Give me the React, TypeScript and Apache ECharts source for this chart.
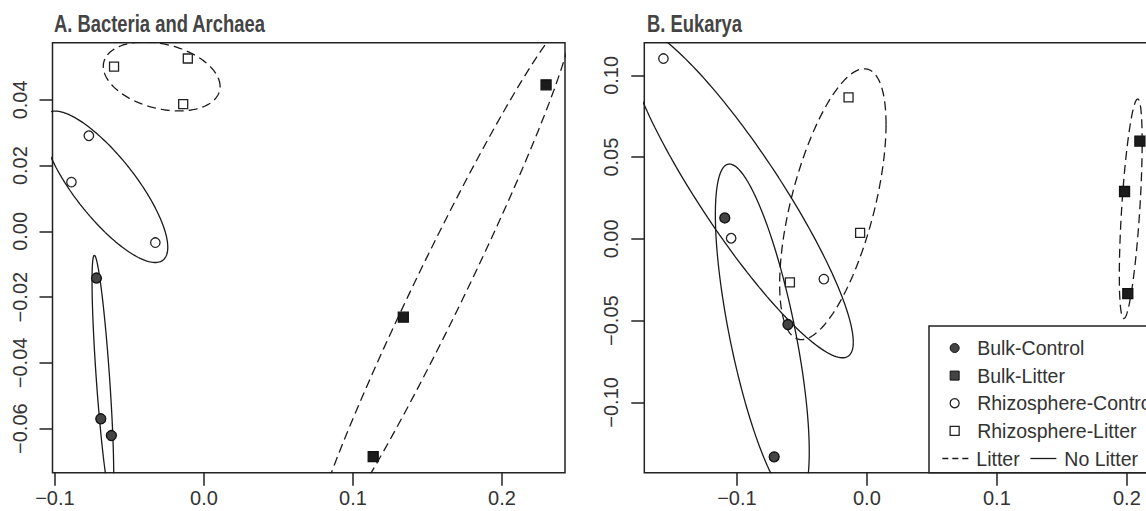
import React, { useEffect, useRef } from "react";
import * as echarts from "echarts";

// ---- groups ----
const groupNames = ["Bulk-Control", "Bulk-Litter", "Rhizosphere-Control", "Rhizosphere-Litter"];
const groupIsLitter = [false, true, false, true];
const lineNames = ["Litter", "No Litter"];

// ---- Panel A: Bacteria and Archaea ----
const bulkControlAX = [-0.0721, -0.0692, -0.0621];
const bulkControlAY = [-0.0142, -0.057, -0.0621];
const bulkLitterAX = [0.2296, 0.1338, 0.1136];
const bulkLitterAY = [0.0446, -0.0261, -0.0685];
const rhizoControlAX = [-0.0772, -0.0889, -0.0326];
const rhizoControlAY = [0.0291, 0.015, -0.0034];
const rhizoLitterAX = [-0.0603, -0.0108, -0.0139];
const rhizoLitterAY = [0.0501, 0.0526, 0.0387];

// ---- Panel B: Eukarya ----
const bulkControlBX = [-0.1093, -0.0607, -0.0713];
const bulkControlBY = [0.0128, -0.0524, -0.1333];
const bulkLitterBX = [0.1982, 0.21, 0.2007];
const bulkLitterBY = [0.029, 0.0598, -0.0335];
const rhizoControlBX = [-0.1565, -0.1044, -0.0331];
const rhizoControlBY = [0.1103, 0.0004, -0.0246];
const rhizoLitterBX = [-0.0141, -0.0052, -0.0592];
const rhizoLitterBY = [0.0866, 0.0037, -0.0266];

// ---- axes ----
const xTicksA = [-0.1, 0.0, 0.1, 0.2];
const yTicksA = [-0.06, -0.04, -0.02, 0.0, 0.02, 0.04];
const xTicksB = [-0.1, 0.0, 0.1, 0.2];
const yTicksB = [-0.1, -0.05, 0.0, 0.05, 0.1];
const xRangeA = [-0.1016, 0.2423];
const yRangeA = [-0.0734, 0.0574];
const xRangeB = [-0.1712, 0.2247];
const yRangeB = [-0.143, 0.12];

const titles = ["A. Bacteria and Archaea", "B. Eukarya"];
const CONF = 0.95;

const FONT = "'Liberation Sans', Arial, Helvetica, sans-serif";

function zip(xs: number[], ys: number[]) {
  return xs.map((x, i) => [x, ys[i]]);
}

// standard-error ellipse (vegan ordiellipse, kind = "se", conf = 0.95)
function seEllipse(xs: number[], ys: number[], segs = 180) {
  const n = xs.length;
  const mx = xs.reduce((a, b) => a + b, 0) / n;
  const my = ys.reduce((a, b) => a + b, 0) / n;
  let sxx = 0, syy = 0, sxy = 0;
  for (let i = 0; i < n; i++) {
    sxx += (xs[i] - mx) ** 2;
    syy += (ys[i] - my) ** 2;
    sxy += (xs[i] - mx) * (ys[i] - my);
  }
  const cxx = sxx / (n - 1) / n;
  const cyy = syy / (n - 1) / n;
  const cxy = sxy / (n - 1) / n;
  const scale = Math.sqrt(-2 * Math.log(1 - CONF));
  const a = Math.sqrt(cxx);
  const b = cxy / a;
  const c = Math.sqrt(Math.max(cyy - b * b, 0));
  const pts: number[][] = [];
  for (let i = 0; i <= segs; i++) {
    const t = (2 * Math.PI * i) / segs;
    const u = Math.cos(t), v = Math.sin(t);
    pts.push([mx + scale * a * u, my + scale * (b * u + c * v)]);
  }
  return pts;
}

const symbolStyles = [
  { symbol: "circle", size: 10, color: "#444444", border: "#111111" },
  { symbol: "rect", size: 10, color: "#1c1c1c", border: "#111111" },
  { symbol: "circle", size: 9.5, color: "#ffffff", border: "#222222" },
  { symbol: "rect", size: 9, color: "#ffffff", border: "#222222" },
];

const panelData = [
  [
    [bulkControlAX, bulkControlAY],
    [bulkLitterAX, bulkLitterAY],
    [rhizoControlAX, rhizoControlAY],
    [rhizoLitterAX, rhizoLitterAY],
  ],
  [
    [bulkControlBX, bulkControlBY],
    [bulkLitterBX, bulkLitterBY],
    [rhizoControlBX, rhizoControlBY],
    [rhizoLitterBX, rhizoLitterBY],
  ],
];

const DASH = [9, 5];

export default function App() {
  const ref = useRef<HTMLDivElement>(null);
  useEffect(() => {
    if (!ref.current) return;
    const chart = echarts.init(ref.current, null, { renderer: "svg" });

    const grids = [
      { left: 52.5, top: 42.7, width: 512.5, height: 430 },
      { left: 644.3, top: 42.7, width: 514.7, height: 430 },
    ].map((g) => ({ ...g, show: true, borderColor: "#222", borderWidth: 1.5, backgroundColor: "transparent", containLabel: false }));

    const xFmt = (v: number) => (v < -1e-9 ? "\u2212" : "") + Math.abs(v).toFixed(1);
    const yFmt = (v: number) => (v < -1e-9 ? "\u2212" : "") + Math.abs(v).toFixed(2);

    const mkX = (idx: number, range: number[], ticks: number[]) => ({
      type: "value",
      gridIndex: idx,
      min: range[0],
      max: range[1],
      axisLine: { show: false, onZero: false },
      splitLine: { show: false },
      axisTick: { show: true, customValues: ticks, length: 13, lineStyle: { color: "#222", width: 1.5 } },
      axisLabel: {
        customValues: ticks,
        formatter: xFmt,
        margin: 15,
        fontSize: 20,
        fontFamily: FONT,
        color: "#333",
      },
    });
    const mkY = (idx: number, range: number[], ticks: number[]) => ({
      type: "value",
      gridIndex: idx,
      min: range[0],
      max: range[1],
      axisLine: { show: false, onZero: false },
      splitLine: { show: false },
      axisTick: { show: true, customValues: ticks, length: 13, lineStyle: { color: "#222", width: 1.5 } },
      axisLabel: {
        customValues: ticks,
        formatter: yFmt,
        rotate: 90,
        margin: 23,
        fontSize: 20,
        fontFamily: FONT,
        color: "#333",
      },
    });

    const series: any[] = [];
    panelData.forEach((groups, p) => {
      groups.forEach(([xs, ys], g) => {
        series.push({
          type: "line",
          name: groupIsLitter[g] ? lineNames[0] : lineNames[1],
          xAxisIndex: p,
          yAxisIndex: p,
          data: seEllipse(xs, ys),
          symbol: "none",
          showSymbol: false,
          clip: true,
          silent: true,
          lineStyle: { color: "#1a1a1a", width: 1.3, type: groupIsLitter[g] ? DASH : "solid" },
          itemStyle: { color: "#1a1a1a" },
          z: 2,
        });
      });
      groups.forEach(([xs, ys], g) => {
        const s = symbolStyles[g];
        series.push({
          type: "scatter",
          name: groupNames[g],
          xAxisIndex: p,
          yAxisIndex: p,
          data: zip(xs, ys),
          symbol: s.symbol,
          symbolSize: s.size,
          itemStyle: { color: s.color, borderColor: s.border, borderWidth: 1.3, opacity: 1 },
          z: 3,
        });
      });
    });

    const hidden = { color: "rgba(0,0,0,0)", borderColor: "rgba(0,0,0,0)", borderWidth: 0, opacity: 0 };

    chart.setOption({
      animation: false,
      grid: grids,
      xAxis: [mkX(0, xRangeA, xTicksA), mkX(1, xRangeB, xTicksB)],
      yAxis: [mkY(0, yRangeA, yTicksA), mkY(1, yRangeB, yTicksB)],
      graphic: [
        {
          type: "text",
          x: 54,
          y: 36,
          scaleX: 0.8,
          scaleY: 1.04,
          style: { text: titles[0], font: `bold 23px ${FONT}`, fill: "#444", textVerticalAlign: "bottom", verticalAlign: "bottom" },
          z: 50,
        },
        {
          type: "text",
          x: 647,
          y: 36,
          scaleX: 0.8,
          scaleY: 1.04,
          style: { text: titles[1], font: `bold 23px ${FONT}`, fill: "#444", textVerticalAlign: "bottom", verticalAlign: "bottom" },
          z: 50,
        },
        {
          type: "rect",
          shape: { x: 929, y: 326, width: 240, height: 146.7 },
          style: { fill: "#fff", stroke: "#222", lineWidth: 1.5 },
          z: 50,
        },
      ],
      legend: [
        {
          orient: "vertical",
          left: 949.5,
          top: 334.2,
          padding: 0,
          itemGap: 0,
          itemWidth: 9,
          itemHeight: 9,
          selectedMode: false,
          z: 60,
          textStyle: { fontSize: 19.5, fontFamily: FONT, color: "#333", lineHeight: 27.6, padding: [0, 0, 0, 13] },
          data: [
            { name: groupNames[0], icon: "circle", itemStyle: { color: "#444", borderColor: "#111", borderWidth: 1 } },
            { name: groupNames[1], icon: "rect", itemStyle: { color: "#444", borderColor: "#111", borderWidth: 1 } },
            { name: groupNames[2], icon: "circle", itemStyle: { color: "#fff", borderColor: "#222", borderWidth: 1.3 } },
            { name: groupNames[3], icon: "rect", itemStyle: { color: "#fff", borderColor: "#222", borderWidth: 1.3 } },
          ],
        },
        {
          orient: "horizontal",
          left: 941.7,
          top: 444.7,
          padding: 0,
          itemGap: 10,
          itemWidth: 26,
          itemHeight: 8,
          selectedMode: false,
          z: 60,
          textStyle: { fontSize: 19.5, fontFamily: FONT, color: "#333", lineHeight: 27.6, padding: [0, 0, 0, 3] },
          data: [
            { name: lineNames[0], itemStyle: hidden, lineStyle: { type: [6, 4], width: 1.3, color: "#1a1a1a" } },
            { name: lineNames[1], itemStyle: hidden, lineStyle: { type: "solid", width: 1.3, color: "#1a1a1a" } },
          ],
        },
      ],
      series,
    });
    return () => chart.dispose();
  }, []);
  return <div ref={ref} style={{ position: "fixed", left: 0, top: 0, width: 1170, height: 511, background: "#fff" }} />;
}
